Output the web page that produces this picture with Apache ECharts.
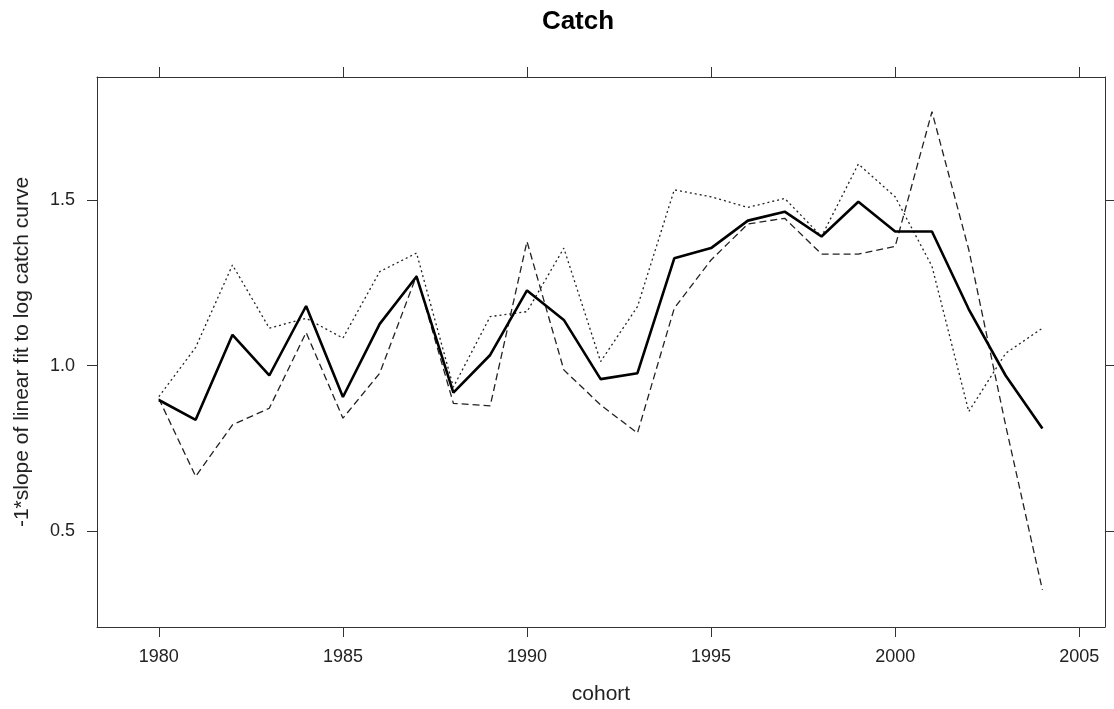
<!DOCTYPE html>
<html>
<head>
<meta charset="utf-8">
<script src="https://cdn.jsdelivr.net/npm/echarts@6/dist/echarts.min.js"></script>
<style>
    html, body { margin: 0; padding: 0; background: #fff; }
    #chart { width: 1114px; height: 709px; }
</style>
</head>
<body>
<div id="chart"></div>
<script>
    // cohort years
    let years = [1980, 1981, 1982, 1983, 1984, 1985, 1986, 1987, 1988, 1989, 1990, 1991, 1992,
                 1993, 1994, 1995, 1996, 1997, 1998, 1999, 2000, 2001, 2002, 2003, 2004];

    // thick solid line
    let slopeMain = [0.896, 0.836, 1.093, 0.970, 1.180, 0.905, 1.126, 1.269, 0.918, 1.032, 1.227, 1.138, 0.959,
                     0.977, 1.324, 1.355, 1.438, 1.465, 1.390, 1.495, 1.405, 1.405, 1.170, 0.970, 0.810];
    // dotted line
    let slopeDotted = [0.906, 1.055, 1.304, 1.113, 1.143, 1.083, 1.284, 1.340, 0.935, 1.148, 1.163, 1.355, 1.012,
                       1.178, 1.531, 1.510, 1.478, 1.505, 1.390, 1.609, 1.510, 1.300, 0.861, 1.037, 1.113];
    // dashed line
    let slopeDashed = [0.900, 0.665, 0.821, 0.871, 1.100, 0.841, 0.977, 1.272, 0.886, 0.878, 1.375, 0.987, 0.881,
                       0.796, 1.173, 1.319, 1.428, 1.445, 1.337, 1.337, 1.360, 1.767, 1.350, 0.820, 0.322];

    let xTicks = [1980, 1985, 1990, 1995, 2000, 2005];
    let yTicks = [0.5, 1.0, 1.5];

    let _pairs = function(vals){
        return years.map((y, i) => [y, vals[i]]);
    };

    let axisColor = '#333';
    let labelFont = 'Arial, "Liberation Sans", sans-serif';

    let _xAxis = function(pos, showLabel){
        return {
            type: 'value',
            position: pos,
            min: 1978.32,
            max: 2005.7,
            name: showLabel ? 'cohort' : '',
            nameLocation: 'middle',
            nameGap: 57,
            nameTextStyle: { fontSize: 21, color: '#222', fontFamily: labelFont },
            axisLine: { show: true, onZero: false, lineStyle: { color: axisColor, width: 1 } },
            axisTick: { show: true, inside: false, length: 10, customValues: xTicks, lineStyle: { color: axisColor } },
            axisLabel: {
                show: showLabel,
                customValues: xTicks,
                margin: 21,
                fontSize: 18,
                color: '#222',
                fontFamily: labelFont,
                formatter: v => String(v)
            },
            splitLine: { show: false }
        };
    };

    let _yAxis = function(pos, showLabel){
        return {
            type: 'value',
            position: pos,
            min: 0.21,
            max: 1.872,
            name: showLabel ? '-1*slope of linear fit to log catch curve' : '',
            nameLocation: 'middle',
            nameGap: 64,
            nameTextStyle: { fontSize: 21, color: '#222', fontFamily: labelFont },
            axisLine: { show: true, onZero: false, lineStyle: { color: axisColor, width: 1 } },
            axisTick: { show: true, inside: false, length: 10, customValues: yTicks, lineStyle: { color: axisColor } },
            axisLabel: {
                show: showLabel,
                customValues: yTicks,
                margin: 22,
                fontSize: 18,
                color: '#222',
                fontFamily: labelFont,
                formatter: v => v.toFixed(1)
            },
            splitLine: { show: false }
        };
    };

    let chart = echarts.init(document.getElementById('chart'));

    chart.setOption({
        animation: false,
        backgroundColor: '#fff',
        title: {
            text: 'Catch',
            left: 573,
            top: 4,
            textAlign: 'center',
            textStyle: { fontSize: 26, fontWeight: 'bold', color: '#000', fontFamily: labelFont }
        },
        grid: { left: 97, top: 77, right: 9, bottom: 82, containLabel: false, outerBoundsMode: 'none' },
        xAxis: [_xAxis('bottom', true), _xAxis('top', false)],
        yAxis: [_yAxis('left', true), _yAxis('right', false)],
        series: [
            {
                type: 'line',
                xAxisIndex: 0,
                yAxisIndex: 0,
                data: _pairs(slopeDotted),
                symbol: 'none',
                lineStyle: { color: '#222', width: 1.3, type: [2, 3] }
            },
            {
                type: 'line',
                xAxisIndex: 0,
                yAxisIndex: 0,
                data: _pairs(slopeDashed),
                symbol: 'none',
                lineStyle: { color: '#222', width: 1.3, type: [7, 4] }
            },
            {
                type: 'line',
                xAxisIndex: 0,
                yAxisIndex: 0,
                data: _pairs(slopeMain),
                symbol: 'none',
                lineStyle: { color: '#000', width: 2.6, type: 'solid' }
            }
        ]
    });
</script>
</body>
</html>
